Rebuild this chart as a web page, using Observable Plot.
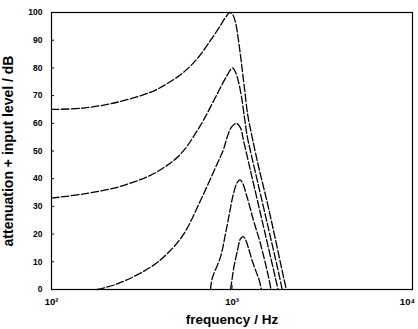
<!DOCTYPE html>
<html>
<head>
<meta charset="utf-8">
<script src="https://cdn.jsdelivr.net/npm/d3@7"></script>
<script src="https://cdn.jsdelivr.net/npm/@observablehq/plot@0.6"></script>
<style>
  html, body { margin: 0; padding: 0; background: #fff; }
  #chart svg { display: block; }
</style>
</head>
<body>
<div id="chart"></div>
<script>
// Curve data (frequency in Hz, level in dB)
const freqA = [100, 151, 231, 353, 437, 541, 641, 760, 863, 920, 973, 1007, 1045, 1086, 1129, 1173, 1219, 1274, 1402, 1573, 1742, 1937, 2000];
const levelA = [65.0, 65.5, 67.6, 71.2, 74.3, 78.5, 83.3, 89.9, 95.3, 98.2, 100, 99.3, 96.5, 90, 81.5, 72.5, 63.5, 57, 44.5, 31, 18, 4, 0];

const freqB = [100, 151, 231, 353, 437, 500, 560, 620, 700, 828, 940, 1007, 1045, 1086, 1129, 1173, 1213, 1265, 1402, 1573, 1742, 1841, 1897];
const levelB = [33.0, 34.5, 36.9, 41.2, 44.8, 47.8, 51.5, 55.8, 61.5, 70.6, 77.3, 80, 78.5, 75, 69.5, 62, 55.5, 50, 37.5, 23.5, 11, 4, 0];

const freqC = [179, 231, 353, 437, 541, 669, 828, 897, 940, 993, 1059, 1093, 1129, 1148, 1265, 1402, 1573, 1742, 1799];
const levelC = [0, 2, 8, 12.9, 20.1, 32.1, 45.4, 50.5, 55, 58.6, 60, 59.2, 57.5, 55, 43, 30.5, 16.5, 4, 0];

const freqD = [760, 777, 863, 920, 968, 1018, 1066, 1105, 1143, 1213, 1315, 1438, 1600, 1644];
const levelD = [0, 4, 11.7, 20, 27.5, 34.5, 38.5, 39.6, 38.5, 33.3, 25, 16.5, 4, 0];

const freqE = [982, 1002, 1024, 1072, 1114, 1150, 1188, 1233, 1300, 1368, 1413, 1456];
const levelE = [0, 4, 8, 14, 18.3, 19.1, 18, 15, 10, 6, 3.5, 0];

const xTicks = [100, 1000, 10000];
const xTickLabels = ["10²", "10³", "10⁴"];
const yTicks = [0, 10, 20, 30, 40, 50, 60, 70, 80, 90, 100];
const xLabel = "frequency / Hz";
const yLabel = "attenuation + input level / dB";

const series = [
  ["A", freqA, levelA], ["B", freqB, levelB], ["C", freqC, levelC],
  ["D", freqD, levelD], ["E", freqE, levelE]
];
const rows = series.flatMap(([k, fs, ls]) => fs.map((f, i) => ({curve: k, f, v: ls[i]})));

const chart = Plot.plot({
  width: 418,
  height: 329,
  marginLeft: 51,
  marginRight: 6,
  marginTop: 12,
  marginBottom: 40,
  style: {fontFamily: "'Liberation Sans', Arial, sans-serif", color: "#000", background: "#fff"},
  x: {type: "log", domain: [100, 10000]},
  y: {domain: [0, 100]},
  marks: [
    Plot.line(rows, {x: "f", y: "v", z: "curve", stroke: "#000", strokeWidth: 1.3,
      strokeDasharray: "7.5,2.5", curve: "catmull-rom"}),
    Plot.frame({stroke: "#000", strokeWidth: 1.2}),
    Plot.axisY({ticks: yTicks, tickSize: -3, tickPadding: 12, fontSize: 8.5, fontWeight: "bold",
      label: yLabel, labelAnchor: "center", labelArrow: "none", labelOffset: 48}),
    Plot.axisX({ticks: xTicks, tickSize: -4, tickPadding: 13, fontSize: 9.5, fontWeight: "bold",
      tickFormat: d => xTickLabels[xTicks.indexOf(d)],
      label: xLabel, labelAnchor: "center", labelArrow: "none", labelOffset: 34})
  ]
});

// axis titles: larger and bold
chart.querySelectorAll("g[aria-label='y-axis label'], g[aria-label='y-axis label'] text").forEach(t => {
  t.setAttribute("font-size", "14");
  t.setAttribute("font-weight", "bold");
});
chart.querySelectorAll("g[aria-label='x-axis label'], g[aria-label='x-axis label'] text").forEach(t => {
  t.setAttribute("font-size", "13.5");
  t.setAttribute("font-weight", "bold");
});
// keep the last x tick label inside the picture, as in the reference
const xTickTexts = chart.querySelectorAll("g[aria-label='x-axis tick label'] text");
if (xTickTexts.length) xTickTexts[xTickTexts.length - 1].setAttribute("dx", "-5");
document.getElementById("chart").appendChild(chart);
</script>
</body>
</html>
